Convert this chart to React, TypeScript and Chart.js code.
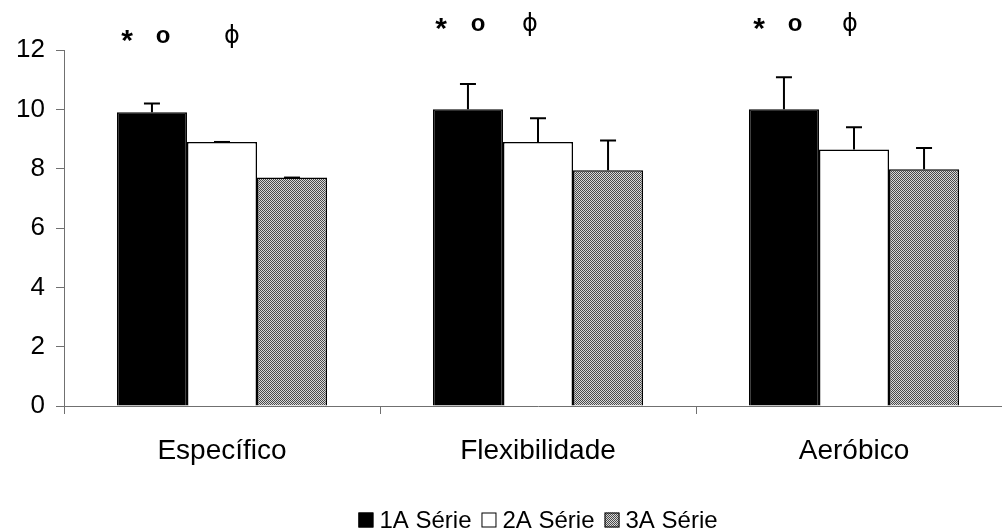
import React, { useEffect, useRef } from "react";
import { Chart, registerables } from "chart.js";

Chart.register(...registerables);

const categories = ["Específico", "Flexibilidade", "Aeróbico"];
const seriesNames = ["1A Série", "2A Série", "3A Série"];
const serie1 = [9.9, 10.0, 10.0];
const serie2 = [8.9, 8.9, 8.65];
const serie3 = [7.7, 7.95, 7.98];
const erro1 = [0.3, 0.85, 1.08];
const erro2 = [0, 0.8, 0.75];
const erro3 = [0, 1.0, 0.72];
const marcadores = ["*", "o", "ϕ"];
const marcadorY = [12.45, 12.85, 12.85];

const erros = [erro1, erro2, erro3];
const FONT = "'Liberation Sans', Arial, sans-serif";

function makePattern(): CanvasPattern | string {
  const c = document.createElement("canvas");
  c.width = 2;
  c.height = 2;
  const g = c.getContext("2d");
  if (!g) return "#999";
  g.fillStyle = "#d8d8d8";
  g.fillRect(0, 0, 2, 2);
  g.fillStyle = "#4a4a4a";
  g.fillRect(0, 0, 1, 1);
  g.fillRect(1, 1, 1, 1);
  const p = g.createPattern(c, "repeat");
  return p || "#999";
}

const errorPlugin = {
  id: "errorBars",
  afterDatasetsDraw(chart: any) {
    const ctx = chart.ctx;
    const ys = chart.scales.y;
    chart.data.datasets.forEach((ds: any, di: number) => {
      const meta = chart.getDatasetMeta(di);
      meta.data.forEach((bar: any, i: number) => {
        const v = ds.data[i];
        const e = erros[di][i];
        const base = ys.getPixelForValue(v);
        const top = ys.getPixelForValue(v + e);
        ctx.save();
        ctx.strokeStyle = "#000";
        ctx.lineWidth = 2;
        ctx.beginPath();
        ctx.moveTo(bar.x, base);
        ctx.lineTo(bar.x, top);
        ctx.moveTo(bar.x - 8, top);
        ctx.lineTo(bar.x + 8, top);
        ctx.stroke();
        ctx.restore();
      });
    });
  },
};

const markerPlugin = {
  id: "markers",
  afterDraw(chart: any) {
    const ctx = chart.ctx;
    const xs = chart.scales.x;
    const ys = chart.scales.y;
    const offsets = [
      [-95, -59, 10],
      [-97, -60, -8],
      [-95, -59, -4],
    ];
    const fonts = [
      `bold 30px ${FONT}`,
      `bold 24px ${FONT}`,
      "24px 'DejaVu Sans', sans-serif",
    ];
    const dy = [5, 0, 0];
    categories.forEach((_, i) => {
      const cx = xs.getPixelForValue(i);
      const cy = ys.getPixelForValue(marcadorY[i]);
      marcadores.forEach((m, k) => {
        ctx.save();
        ctx.fillStyle = "#000";
        ctx.font = fonts[k];
        ctx.textAlign = "center";
        ctx.textBaseline = "middle";
        ctx.fillText(m, cx + offsets[i][k], cy + dy[k]);
        ctx.restore();
      });
    });
  },
};

const legendPlugin = {
  id: "customLegend",
  afterDraw(chart: any) {
    const ctx = chart.ctx;
    const box = 15;
    const gapBoxText = 6;
    const gapItems = 10;
    const centerX = (chart.chartArea.left + chart.chartArea.right) / 2;
    const centerY = 520;
    ctx.save();
    ctx.font = `24px ${FONT}`;
    const widths = seriesNames.map((n) => ctx.measureText(n).width);
    const total =
      widths.reduce((a, b) => a + b, 0) +
      seriesNames.length * (box + gapBoxText) +
      (seriesNames.length - 1) * gapItems;
    let x = centerX - total / 2;
    chart.data.datasets.forEach((ds: any, i: number) => {
      ctx.fillStyle = ds.backgroundColor;
      ctx.fillRect(x, centerY - box / 2, box, box);
      ctx.strokeStyle = "#000";
      ctx.lineWidth = 1;
      ctx.strokeRect(x + 0.5, centerY - box / 2 + 0.5, box - 1, box - 1);
      x += box + gapBoxText;
      ctx.fillStyle = "#000";
      ctx.textAlign = "left";
      ctx.textBaseline = "middle";
      ctx.fillText(seriesNames[i], x, centerY + 1);
      x += widths[i] + gapItems;
    });
    ctx.restore();
  },
};

export default function App() {
  const ref = useRef<HTMLCanvasElement>(null);

  useEffect(() => {
    if (!ref.current) return;
    const pattern = makePattern();
    const fills = ["#000000", "#ffffff", pattern];
    const datasets = [serie1, serie2, serie3].map((d, i) => ({
      label: seriesNames[i],
      data: d,
      backgroundColor: fills[i] as any,
      borderColor: "#000",
      borderWidth: 1.5,
      barPercentage: 1,
      categoryPercentage: 0.665,
    }));
    const chart = new Chart(ref.current, {
      type: "bar",
      data: { labels: categories, datasets },
      options: {
        animation: false,
        responsive: false,
        devicePixelRatio: 1,
        layout: { padding: { top: 50, left: 0, right: 0, bottom: 0 } },
        plugins: {
          tooltip: { enabled: false },
          legend: { display: false },
        },
        scales: {
          x: {
            grid: {
              display: true,
              drawOnChartArea: false,
              tickLength: 8,
              color: "#707070",
              offset: true,
            },
            border: { color: "#707070", width: 1 },
            ticks: {
              color: "#000",
              padding: 20,
              font: { size: 28, family: FONT },
            },
            afterFit: (s: any) => {
              s.height = 126;
            },
          },
          y: {
            min: 0,
            max: 12,
            grid: {
              display: true,
              drawOnChartArea: false,
              tickLength: 8,
              color: "#707070",
            },
            border: { color: "#707070", width: 1 },
            ticks: {
              stepSize: 2,
              color: "#000",
              padding: 11,
              font: { size: 26, family: FONT },
            },
            afterFit: (s: any) => {
              s.width = 64;
            },
          },
        },
      },
      plugins: [errorPlugin, markerPlugin, legendPlugin],
    });
    return () => chart.destroy();
  }, []);

  return (
    <div
      style={{
        position: "absolute",
        left: 0,
        top: 0,
        width: 1002,
        height: 532,
        overflow: "hidden",
        background: "#fff",
      }}
    >
      <canvas ref={ref} width={1012} height={532} />
    </div>
  );
}
